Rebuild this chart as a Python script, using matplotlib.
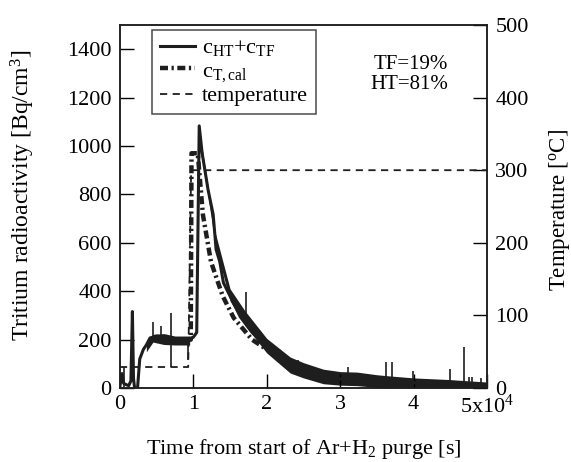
import matplotlib
matplotlib.use("Agg")
import matplotlib.pyplot as plt

plt.rcParams['font.family'] = 'Liberation Serif'
plt.rcParams['mathtext.fontset'] = 'custom'
plt.rcParams['mathtext.rm'] = 'Liberation Serif'
plt.rcParams['mathtext.it'] = 'Liberation Serif:italic'

# time in units of 1e4 s
t_meas = [0.0, 0.03, 0.05, 0.08, 0.12, 0.15, 0.17, 0.185, 0.20, 0.24, 0.27, 0.32, 0.36,
          0.41, 0.50, 0.60, 0.70, 0.80, 0.90, 0.95, 1.00, 1.046, 1.08, 1.12, 1.20,
          1.27, 1.31, 1.36, 1.41, 1.50, 1.64, 1.80, 1.95, 2.10, 2.32, 2.50, 2.77,
          3.00, 3.23, 3.50, 3.68, 4.00, 4.14, 4.50, 4.59, 5.00]
c_meas = [10, 60, 20, 15, 10, 30, 316, 40, 0, 0, 120, 160, 178,
          207, 215, 210, 205, 198, 198, 205, 210, 230, 1083, 970, 820,
          717, 572, 522, 435, 380, 294, 230, 186, 155, 110, 80, 50,
          38, 33, 30, 25, 22, 20, 17, 15, 10]

# thick noisy band of the measurement (None splits the pieces)
band_t = [0.36, 0.45, 0.60, 0.75, 0.95, None,
          1.12, 1.30, 1.50, 1.70, 2.00, 2.32, 2.50, 2.77, 3.00, 3.23, 3.50, 3.68, 4.00, 4.14, 4.50, 4.59, 5.00]
band_hi = [185, 222, 225, 215, 215, None,
           990, 640, 410, 320, 205, 128, 105, 78, 68, 66, 55, 50, 42, 40, 35, 33, 25]
band_lo = [150, 190, 180, 178, 178, None,
           950, 590, 360, 260, 145, 62, 42, 18, 12, 10, 3, 2, 2, 2, 2, 2, 2]

spike_t = [0.05, 0.45, 0.56, 0.70, 0.70, 0.93, 1.72, 2.43, 3.10, 3.63, 3.71, 3.99, 4.50, 4.69, 4.76, 4.80, 4.92]
spike_lo = [5, 200, 200, 200, 88, 116, 270, 80, 40, 30, 30, 25, 20, 15, 10, 10, 8]
spike_hi = [88, 275, 255, 310, 200, 200, 398, 116, 88, 109, 109, 70, 80, 171, 45, 45, 40]

# calculated curve
t_cal = [0.40, 0.60, 0.80, 0.93, 0.965, 0.975, 1.06, 1.13, 1.24, 1.30, 1.40,
         1.55, 1.80, 2.20, 2.80, 3.50, 4.50, 5.00]
c_cal = [200, 205, 200, 200, 200, 970, 970, 717, 522, 468, 380,
         290, 200, 120, 60, 30, 15, 10]

# temperature (deg C)
t_temp = [0.0, 0.93, 0.97, 5.0]
temp = [29, 29, 300, 300]

xticks = [0, 1, 2, 3, 4, 5]
xticklabels = ['0', '1', '2', '3', '4', '5x10$^4$']

fig = plt.figure(figsize=(5.71, 4.62), dpi=100)
ax = fig.add_axes([0.210, 0.160, 0.643, 0.786])
ax2 = ax.twinx()

ink = '#1e1e1e'

# measured band pieces
pieces = []
cur = []
for i, t in enumerate(band_t):
    if t is None:
        pieces.append(cur)
        cur = []
    else:
        cur.append(i)
pieces.append(cur)
for p in pieces:
    ax.fill_between([band_t[i] for i in p], [band_lo[i] for i in p],
                    [band_hi[i] for i in p], color=ink, lw=0)

l1, = ax.plot(t_meas, c_meas, '-', color=ink, lw=2.2, label=r'$\mathregular{c_{HT}{+}c_{TF}}$')
ax.vlines(spike_t, spike_lo, spike_hi, color=ink, lw=1.2)
l2, = ax.plot(t_cal, c_cal, color=ink, lw=3.2, linestyle=(0, (1.8, 0.8, 0.5, 0.8)),
              label=r'$\mathregular{c_{T,cal}}$')
l3, = ax2.plot(t_temp, temp, color=ink, lw=1.3, linestyle=(0, (4, 3)), label='temperature')

ax.set_xlim(0, 5)
ax.set_ylim(0, 1500)
ax2.set_ylim(0, 500)
ax.set_xticks(xticks)
ax.set_xticklabels(xticklabels)
ax.set_yticks(range(0, 1401, 200))
ax2.set_yticks(range(0, 501, 100))

ax.tick_params(direction='in', length=10, width=1, labelsize=16, top=False, right=False, pad=6)
ax.tick_params(axis='x', pad=5)
ax2.tick_params(direction='in', length=10, width=1, labelsize=16, pad=6)
for a in (ax, ax2):
    for s in a.spines.values():
        s.set_linewidth(1.1)
        s.set_color(ink)

ax.set_ylabel('Tritium radioactivity [Bq/cm$^3$]', fontsize=17)
ax.yaxis.set_label_coords(-0.226, 0.53)
ax2.set_ylabel('Temperature [$^{\\mathregular{o}}$C]', fontsize=16.5)
ax2.yaxis.set_label_coords(1.163, 0.49)
ax.set_xlabel('Time from start of Ar+H$_2$ purge [s]', fontsize=16)
ax.xaxis.set_label_coords(0.5, -0.135)

ax.text(0.894, 0.890, 'TF=19%', transform=ax.transAxes, ha='right', va='center', fontsize=15)
ax.text(0.894, 0.835, 'HT=81%', transform=ax.transAxes, ha='right', va='center', fontsize=15)

leg = ax.legend(handles=[l1, l2, l3], loc='upper left', bbox_to_anchor=(0.087, 0.986),
                borderaxespad=0, fontsize=16, frameon=True, fancybox=False,
                handlelength=1.6, handletextpad=0.3, labelspacing=0.1,
                borderpad=0.35)
leg.get_frame().set_edgecolor(ink)
leg.get_frame().set_linewidth(1.1)

fig.savefig('out.png', dpi=100)
